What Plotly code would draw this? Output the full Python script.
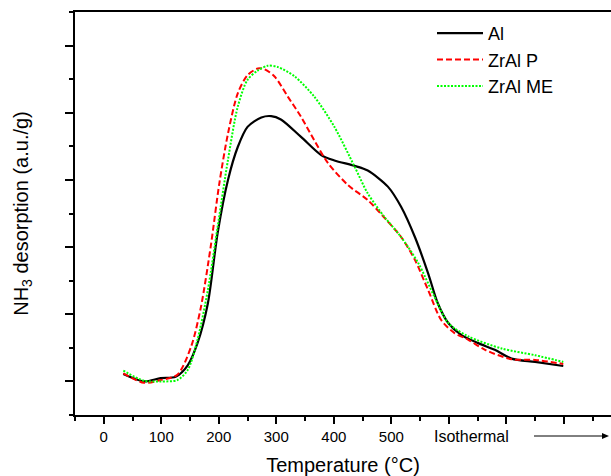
import plotly.graph_objects as go

# Data (temperature in °C, NH3 desorption in a.u./g)
al_x = [34, 70, 99, 125, 146, 163, 181, 198, 216, 233, 250, 274, 291, 308, 343, 378, 401, 436, 459, 494, 517, 541, 564, 581, 599, 622, 651, 680, 709, 750, 799]
al_y = [0.11, 0.00, 0.05, 0.07, 0.24, 0.57, 1.16, 2.21, 3.00, 3.49, 3.79, 3.93, 3.95, 3.90, 3.64, 3.37, 3.29, 3.21, 3.14, 2.90, 2.60, 2.15, 1.61, 1.16, 0.87, 0.69, 0.57, 0.47, 0.34, 0.29, 0.23]

zrp_x = [34, 70, 99, 128, 152, 169, 186, 201, 216, 233, 250, 268, 279, 297, 320, 343, 366, 390, 425, 459, 494, 517, 541, 564, 587, 610, 634, 663, 709, 750, 799]
zrp_y = [0.12, -0.02, 0.02, 0.10, 0.52, 1.11, 2.01, 2.95, 3.69, 4.29, 4.56, 4.66, 4.65, 4.54, 4.24, 3.94, 3.59, 3.25, 2.92, 2.70, 2.38, 2.15, 1.81, 1.36, 0.91, 0.72, 0.62, 0.47, 0.33, 0.32, 0.26]

zrme_x = [34, 70, 99, 128, 146, 163, 181, 198, 216, 233, 250, 268, 285, 303, 332, 366, 401, 436, 459, 488, 517, 547, 575, 599, 634, 692, 750, 799]
zrme_y = [0.16, 0.01, 0.00, 0.02, 0.17, 0.62, 1.36, 2.30, 3.30, 4.09, 4.49, 4.63, 4.70, 4.68, 4.54, 4.24, 3.79, 3.20, 2.80, 2.45, 2.15, 1.76, 1.26, 0.87, 0.67, 0.49, 0.39, 0.29]

x_tickvals = [0, 100, 200, 300, 400, 500, 600, 700, 800]
x_ticktext = ["0", "100", "200", "300", "400", "500", " ", " ", " "]

FONT = "Liberation Sans, Arial, sans-serif"

fig = go.Figure()
fig.add_trace(go.Scatter(x=al_x, y=al_y, mode="lines", name="Al",
                         line=dict(color="black", width=2.2, shape="spline", smoothing=0.8)))
fig.add_trace(go.Scatter(x=zrp_x, y=zrp_y, mode="lines", name="ZrAl P",
                         line=dict(color="#ff0000", width=2, dash="6px,3px", shape="spline", smoothing=0.8)))
fig.add_trace(go.Scatter(x=zrme_x, y=zrme_y, mode="lines", name="ZrAl ME",
                         line=dict(color="#00ff00", width=2, dash="2px,1.5px", shape="spline", smoothing=0.8)))

W, H = 611, 476
ml, mr, mt, mb = 75, 0, 12, 61
pw = W - ml - mr
ph = H - mt - mb

def px2paper_x(px):
    return (px - ml) / pw

def px2paper_y(py):
    return (H - mb - py) / ph

fig.update_layout(
    width=W, height=H,
    margin=dict(l=ml, r=mr, t=mt, b=mb, pad=0, autoexpand=False),
    plot_bgcolor="white", paper_bgcolor="white",
    font=dict(family=FONT, color="black", size=15),
    showlegend=True,
    legend=dict(x=px2paper_x(432), y=px2paper_y(15), xanchor="left", yanchor="top",
                font=dict(family=FONT, size=18, color="black"),
                bgcolor="rgba(0,0,0,0)", tracegroupgap=0, itemwidth=46),
    xaxis=dict(range=[-50, 882], showline=True, linecolor="black", linewidth=2, mirror=True,
               automargin=False,
               ticks="outside", ticklen=7, tickwidth=1.5, tickcolor="black",
               tickvals=x_tickvals, ticktext=x_ticktext,
               tickfont=dict(family=FONT, size=15),
               minor=dict(dtick=50, tick0=0, ticks="outside", ticklen=4, tickwidth=1.5, tickcolor="black"),
               showgrid=False, zeroline=False,
               title=dict(text="Temperature (°C)", font=dict(family=FONT, size=20), standoff=14)),
    yaxis=dict(range=[-0.5, 5.5], showline=True, linecolor="black", linewidth=2, mirror=False,
               automargin=False,
               ticks="outside", ticklen=8, tickwidth=1.5, tickcolor="black",
               tick0=0, dtick=1, showticklabels=False,
               minor=dict(dtick=0.5, tick0=0, ticks="outside", ticklen=4, tickwidth=1.5, tickcolor="black"),
               showgrid=False, zeroline=False,
               title=dict(text="NH<sub>3</sub> desorption (a.u./g)", font=dict(family=FONT, size=20), standoff=31)),
)

fig.add_annotation(x=px2paper_x(472), y=px2paper_y(436), xref="paper", yref="paper",
                   text="Isothermal", showarrow=False, font=dict(family=FONT, size=16),
                   xanchor="center", yanchor="middle")
# arrow after "Isothermal"
fig.add_shape(type="line", xref="paper", yref="paper",
              x0=px2paper_x(534), x1=px2paper_x(603), y0=px2paper_y(436), y1=px2paper_y(436),
              line=dict(color="black", width=1))
fig.add_shape(type="path", xref="paper", yref="paper",
              path="M {a},{b} L {c},{d} L {a},{e} Z".format(
                  a=px2paper_x(602), b=px2paper_y(433), c=px2paper_x(609),
                  d=px2paper_y(436), e=px2paper_y(439)),
              fillcolor="black", line=dict(color="black", width=0))

fig.write_html("out.html", config={"displayModeBar": False},
               post_script="document.body.style.margin='0px';document.body.style.overflow='hidden';")
